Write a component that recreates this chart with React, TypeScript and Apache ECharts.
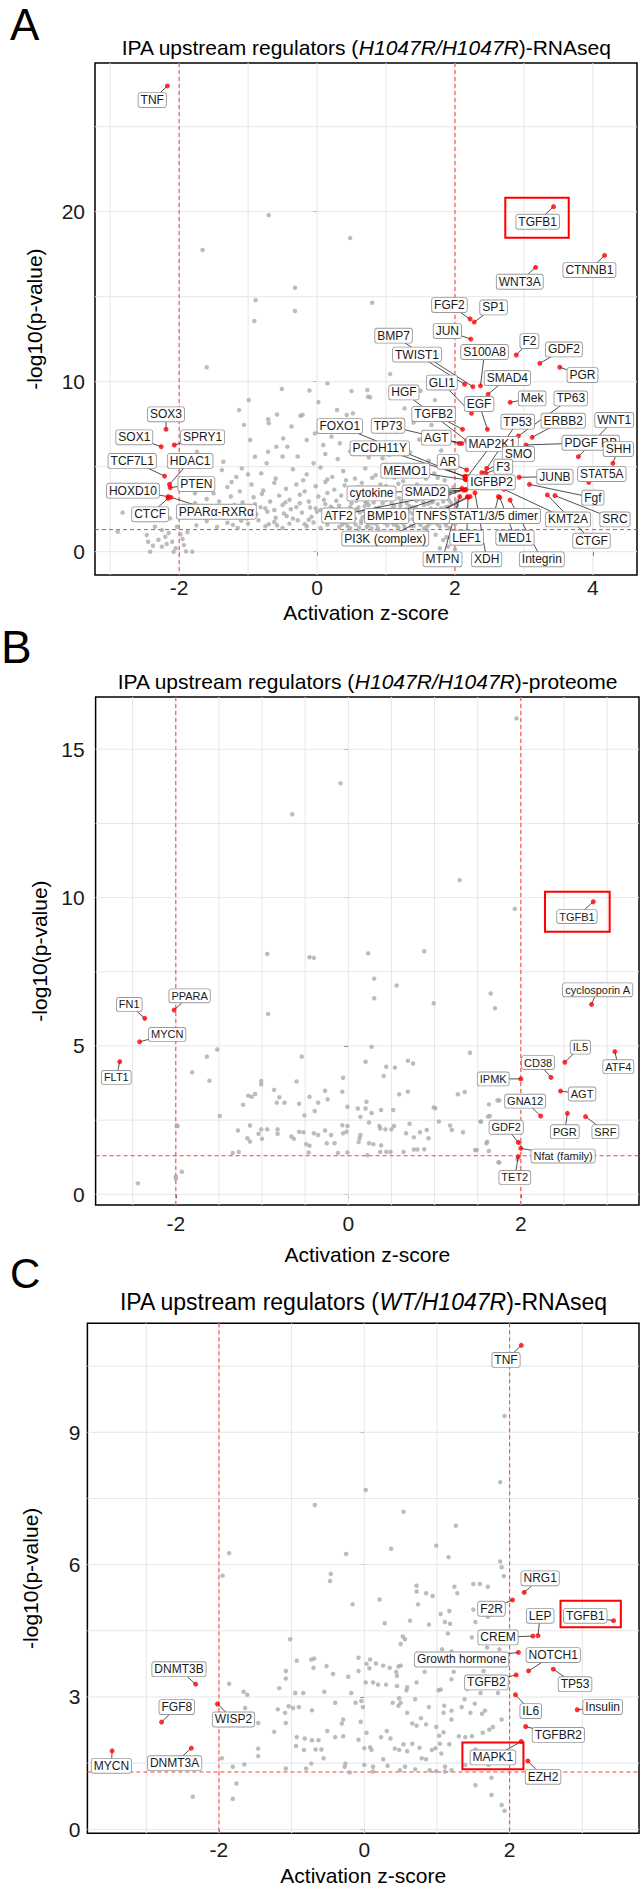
import React, { useEffect, useRef } from "react";
import * as echarts from "echarts";

// Labelled regulators: [name, point z, point -log10p, label z, label -log10p]
const A_LABELS = [
  ["TNF", -2.17, 27.4, -2.39, 26.57],
  ["TGFB1", 3.43, 20.3, 3.2, 19.41],
  ["CTNNB1", 4.17, 17.43, 3.95, 16.57],
  ["WNT3A", 3.17, 16.73, 2.94, 15.88],
  ["FGF2", 2.22, 13.69, 1.92, 14.51],
  ["SP1", 2.28, 13.51, 2.56, 14.37],
  ["JUN", 2.23, 12.51, 1.89, 12.98],
  ["F2", 2.89, 11.57, 3.08, 12.39],
  ["S100A8", 2.37, 9.76, 2.43, 11.75],
  ["GDF2", 3.23, 11.08, 3.58, 11.9],
  ["PGR", 3.52, 10.85, 3.85, 10.39],
  ["BMP7", 2.26, 9.71, 1.11, 12.71],
  ["TWIST1", 2.14, 9.85, 1.45, 11.6],
  ["SMAD4", 2.48, 9.26, 2.76, 10.22],
  ["GLI1", 2.24, 8.14, 1.81, 9.95],
  ["EGF", 2.47, 7.2, 2.35, 8.69],
  ["Mek", 2.8, 8.79, 3.12, 9.02],
  ["TP63", 2.92, 6.81, 3.68, 9.02],
  ["TP53", 2.46, 4.9, 2.91, 7.65],
  ["ERBB2", 3.12, 6.73, 3.57, 7.71],
  ["HGF", 2.17, 6.53, 1.26, 9.37],
  ["TGFB2", 2.11, 7.2, 1.69, 8.1],
  ["TP73", 2.1, 6.37, 1.03, 7.41],
  ["AGT", 2.06, 6.37, 1.73, 6.71],
  ["FOXO1", 2.14, 4.41, 0.33, 7.39],
  ["MAP2K1", 2.18, 4.41, 2.54, 6.34],
  ["PDGF BB", 3.03, 6.28, 3.97, 6.41],
  ["WNT1", 3.79, 5.59, 4.31, 7.75],
  ["SHH", 4.29, 5.2, 4.37, 6.04],
  ["STAT5A", 3.94, 4.08, 4.13, 4.57],
  ["SMO", 2.39, 4.65, 2.92, 5.75],
  ["AR", 2.17, 4.81, 1.9, 5.29],
  ["F3", 2.45, 4.61, 2.7, 5.0],
  ["JUNB", 2.93, 4.38, 3.45, 4.41],
  ["MEMO1", 2.15, 4.24, 1.28, 4.77],
  ["PCDH11Y", 2.15, 4.43, 0.91, 6.08],
  ["IGFBP2", 2.17, 4.24, 2.53, 4.08],
  ["Fgf", 3.08, 3.96, 4.0, 3.18],
  ["SMAD2", 2.15, 3.63, 1.57, 3.49],
  ["cytokine", 2.1, 3.73, 0.79, 3.43],
  ["KMT2A", 2.71, 3.67, 3.64, 1.9],
  ["SRC", 3.45, 3.3, 4.32, 1.9],
  ["CTGF", 3.34, 3.34, 3.98, 0.65],
  ["STAT1/3/5 dimer", 2.63, 3.24, 2.56, 2.1],
  ["TNFS", 2.18, 3.24, 1.66, 2.1],
  ["BMP10", 2.12, 3.63, 1.01, 2.1],
  ["ATF2", 2.16, 3.67, 0.31, 2.13],
  ["PI3K (complex)", 2.22, 3.24, 0.99, 0.77],
  ["LEF1", 2.19, 3.2, 2.17, 0.82],
  ["MTPN", 2.07, 3.24, 1.82, -0.45],
  ["XDH", 2.29, 3.47, 2.46, -0.45],
  ["MED1", 2.65, 3.2, 2.87, 0.82],
  ["Integrin", 2.8, 3.04, 3.26, -0.45],
  ["SOX3", -2.19, 7.2, -2.19, 8.08],
  ["SOX1", -2.26, 6.18, -2.65, 6.73],
  ["SPRY1", -2.07, 6.28, -1.66, 6.73],
  ["TCF7L1", -2.21, 4.45, -2.68, 5.34],
  ["HDAC1", -2.14, 3.96, -1.84, 5.34],
  ["PTEN", -2.13, 3.77, -1.75, 3.98],
  ["HOXD10", -2.16, 3.24, -2.67, 3.59],
  ["CTCF", -2.16, 3.14, -2.42, 2.2],
  ["PPARα-RXRα", -2.12, 3.2, -1.46, 2.35],
];

const A_GRAY = [
  [-0.70, 19.8], [-1.66, 17.75], [0.48, 18.45], [-0.32, 15.53], [-0.89, 14.8], [0.80, 14.65], [-0.32, 14.16], [-0.91, 13.57],
  [-1.60, 10.85], [0.15, 9.9], [-0.51, 9.57], [-0.11, 9.48], [-0.99, 8.92], [0.02, 8.8], [-1.13, 8.33], [-0.71, 7.79],
  [-0.58, 8.07], [-0.24, 8.0], [-1.06, 7.46], [-0.37, 7.37], [-0.70, 7.56], [1.50, 9.47], [0.73, 9.51], [1.71, 8.92],
  [1.27, 8.43], [0.52, 8.14], [0.50, 9.45], [0.74, 9.12], [0.29, 8.34], [0.43, 8.04], [-0.21, 8.06], [1.06, 10.45],
  [0.77, 9.09], [1.66, 7.45],
  [-1.74, 5.88], [-1.62, 5.29], [-1.38, 4.8], [-1.36, 5.29], [-1.24, 4.1], [-1.17, 4.4], [-1.09, 4.9], [-0.97, 6.57],
  [-0.9, 5.59], [-0.81, 4.61], [-0.71, 5.88], [-0.59, 6.18], [-0.49, 6.67], [-0.43, 6.18], [-0.73, 5.2],
  [-0.15, 6.57], [-0.03, 6.96], [0.09, 6.28], [0.21, 6.77], [0.33, 6.38],
  [-0.28, 5.6], [-0.05, 5.2], [0.12, 5.75], [0.3, 5.45], [0.48, 5.9], [0.62, 6.3], [0.75, 5.55], [0.9, 6.05], [1.05, 5.7],
  [1.2, 6.4], [1.35, 5.85], [1.48, 6.6], [1.62, 5.35], [1.8, 5.95], [0.55, 7.1], [0.88, 7.35], [1.15, 7.05], [1.4, 7.6], [0.25, 7.5],
  [-0.35, 4.85], [-0.15, 4.55], [0.05, 4.95], [0.22, 4.4], [0.38, 4.75], [0.55, 4.3], [0.7, 4.9], [0.85, 4.5], [1.0, 5.1],
  [1.12, 4.35], [1.28, 4.8], [1.42, 4.45], [1.55, 5.05], [1.7, 4.6], [1.85, 4.2], [1.95, 4.9], [-0.6, 4.3], [-1.0, 4.55], [-0.5, 5.6],
  [-1.5, 3.43], [-1.3, 3.8], [-1.12, 3.55], [-0.95, 3.95], [-0.78, 3.6], [-0.62, 4.05], [-0.45, 3.7], [-0.3, 3.95], [-0.18, 3.55],
  [-0.02, 3.85], [0.12, 4.1], [0.25, 3.65], [0.4, 3.9], [0.52, 3.6], [0.65, 4.05], [0.78, 3.75], [0.92, 3.95], [1.05, 3.6],
  [1.18, 4.0], [1.3, 3.7], [1.45, 3.95], [1.58, 3.6], [1.72, 3.85], [1.85, 3.55], [1.98, 3.8],
  [-1.77, 3.44], [-1.77, 2.85], [-1.6, 3.1], [-1.42, 2.95], [-1.25, 3.25], [-1.08, 2.9], [-0.92, 3.2], [-0.8, 3.4], [-0.68, 2.95],
  [-0.55, 3.3], [-0.4, 3.05], [-0.25, 3.35], [-0.12, 2.95], [0.02, 3.25], [0.15, 3.45], [0.28, 3.0], [0.35, 3.3], [0.48, 3.1],
  [0.58, 3.4], [0.7, 2.95], [0.82, 3.25], [0.88, 3.45], [1.0, 3.05], [1.1, 3.3], [1.22, 2.95], [1.35, 3.35], [1.48, 3.1],
  [1.6, 3.4], [1.68, 2.95], [1.8, 3.2], [1.92, 3.45], [2.02, 3.0],
  [-1.82, 2.25], [-1.96, 2.16], [-1.55, 2.6], [-1.38, 2.45], [-1.2, 2.75], [-1.05, 2.5], [-0.9, 2.8], [-0.75, 2.55], [-0.62, 2.45],
  [-0.5, 2.75], [-0.38, 2.5], [-0.25, 2.85], [-0.1, 2.6], [0.05, 2.45], [0.12, 2.8], [0.22, 2.55], [0.32, 2.7], [0.42, 2.45],
  [0.5, 2.85], [0.6, 2.6], [0.68, 2.4], [0.75, 2.75], [0.85, 2.55], [0.95, 2.85], [1.02, 2.45], [1.12, 2.7], [1.2, 2.5],
  [1.3, 2.85], [1.38, 2.6], [1.45, 2.4], [1.55, 2.75], [1.65, 2.55], [1.75, 2.8], [1.82, 2.45], [1.9, 2.65], [2.0, 2.5],
  [-1.7, 2.05], [-1.5, 2.3], [-1.35, 2.0], [-1.18, 2.25], [-1.02, 1.95], [-0.88, 2.2], [-0.72, 2.35], [-0.6, 2.0], [-0.48, 2.25],
  [-0.35, 1.95], [-0.22, 2.3], [-0.08, 2.05], [0.0, 2.35], [0.1, 1.95], [0.2, 2.2], [0.3, 2.35], [0.38, 2.0], [0.46, 2.25],
  [0.55, 1.95], [0.62, 2.3], [0.7, 2.1], [0.78, 1.9], [0.84, 2.25], [0.92, 2.05], [1.0, 2.35], [1.06, 1.95], [1.15, 2.2],
  [1.22, 2.38], [1.3, 2.0], [1.38, 2.25], [1.46, 1.92], [1.55, 2.15], [1.62, 2.35], [1.7, 2.0], [1.78, 2.25], [1.86, 1.95],
  [1.95, 2.2], [2.05, 2.05],
  [-1.75, 1.55], [-1.6, 1.8], [-1.45, 1.45], [-1.3, 1.7], [-1.15, 1.4], [-1.0, 1.65], [-0.85, 1.85], [-0.75, 1.5], [-0.62, 1.75],
  [-0.5, 1.4], [-0.4, 1.65], [-0.28, 1.85], [-0.15, 1.5], [-0.05, 1.72], [0.05, 1.4], [0.15, 1.6], [0.25, 1.85], [0.32, 1.45],
  [0.4, 1.7], [0.48, 1.38], [0.56, 1.6], [0.64, 1.82], [0.72, 1.45], [0.8, 1.68], [0.88, 1.4], [0.95, 1.85], [1.02, 1.55],
  [1.1, 1.75], [1.18, 1.42], [1.25, 1.65], [1.32, 1.88], [1.4, 1.5], [1.48, 1.72], [1.55, 1.38], [1.62, 1.6], [1.7, 1.85],
  [1.78, 1.48], [1.85, 1.7], [1.92, 1.4], [2.0, 1.62], [2.08, 1.85],
  [0.66, 2.02], [0.74, 1.55], [0.9, 2.6], [0.98, 1.7], [1.08, 2.85], [1.16, 1.52], [1.26, 2.15], [1.34, 2.68], [1.42, 1.78],
  [1.52, 2.42], [1.58, 1.95], [1.66, 2.9], [1.74, 1.62], [1.8, 2.55], [1.88, 2.1], [1.94, 2.88], [0.82, 2.9], [1.04, 2.3],
  [1.24, 1.8], [1.44, 3.0], [1.64, 2.2], [1.84, 1.75], [0.58, 2.5], [0.36, 1.58], [0.18, 2.42], [-0.18, 1.62], [-0.44, 2.1],
  [-0.7, 1.62], [-0.95, 2.42], [-1.22, 1.58], [-1.48, 2.15],
  [0.44, 1.52], [0.52, 2.12], [0.61, 1.42], [0.69, 2.68], [0.77, 2.18], [0.86, 1.62], [0.93, 2.32], [1.01, 1.78], [1.09, 2.55],
  [1.14, 1.98], [1.21, 2.72], [1.27, 1.45], [1.33, 2.38], [1.39, 1.92], [1.43, 2.62], [1.5, 1.58], [1.56, 2.28], [1.61, 2.82],
  [1.67, 1.72], [1.72, 2.48], [1.77, 1.9], [1.83, 2.95], [1.87, 1.55], [1.93, 2.35], [1.97, 1.78], [2.03, 2.7], [0.48, 2.62],
  [0.57, 3.0], [0.64, 1.68], [0.72, 2.88], [0.79, 1.38], [0.87, 2.42], [0.96, 3.1], [1.03, 2.0], [1.11, 1.6], [1.19, 3.15],
  [1.29, 2.5], [1.36, 1.52], [1.41, 3.2], [1.49, 2.02], [1.54, 2.92], [1.59, 1.45], [1.69, 3.08], [1.76, 2.1], [1.86, 2.6],
  [1.91, 3.05], [0.3, 1.95], [0.2, 2.65], [0.1, 3.05], [-0.02, 2.55], [-0.12, 1.88], [-0.3, 2.62], [-0.46, 2.9], [-0.58, 1.55],
  [-0.82, 2.62], [-1.1, 1.82], [-1.32, 2.55], [-1.62, 2.0], [0.42, 4.2], [0.6, 3.8], [0.8, 4.35], [1.0, 3.85], [1.25, 4.15],
  [1.5, 3.78], [1.75, 4.35], [0.15, 4.25], [-0.2, 4.2], [0.95, 5.5], [1.58, 4.3], [1.9, 3.3],
  [-2.82, 2.3], [-2.89, 1.18], [-2.47, 0.98], [-2.45, 0.59], [-2.35, 1.47], [-2.25, 1.27], [-2.42, 0.0], [-2.25, 0.29],
  [-2.2, 0.88], [-2.1, 0.59], [-2.03, 1.47], [-1.98, 1.02], [-1.93, 0.39], [-1.81, 0.0], [-1.9, 0.02], [-2.08, 0.0],
  [-2.13, 1.96], [-2.3, 0.7], [-2.18, 0.45], [-2.05, 0.2], [-1.95, 0.75], [-1.88, 1.15], [-2.15, 1.1], [-2.38, 0.35],
  [1.72, 1.0], [1.83, 0.69], [1.9, 0.3], [1.98, 0.95], [2.05, 0.5], [2.1, 1.1], [1.78, 0.2], [2.0, 0.15], [1.88, 0.85],
  [2.15, 0.72], [1.2, 1.15], [1.45, 1.05], [1.6, 1.2], [1.3, 0.95], [0.9, 1.2], [0.6, 1.15],
];

const B_LABELS = [
  ["TGFB1", 2.84, 9.86, 2.65, 9.36],
  ["cyclosporin A", 2.82, 6.4, 2.89, 6.89],
  ["IL5", 2.51, 4.45, 2.69, 4.96],
  ["ATF4", 3.09, 4.81, 3.13, 4.3],
  ["CD38", 2.35, 3.94, 2.2, 4.44],
  ["IPMK", 2.0, 3.89, 1.68, 3.89],
  ["AGT", 2.46, 3.48, 2.71, 3.38],
  ["GNA12", 2.23, 2.64, 2.05, 3.14],
  ["PGR", 2.54, 2.73, 2.51, 2.11],
  ["SRF", 2.75, 2.62, 2.98, 2.11],
  ["GDF2", 1.97, 1.75, 1.83, 2.26],
  ["Nfat (family)", 2.0, 1.55, 2.49, 1.29],
  ["TET2", 1.97, 1.27, 1.93, 0.57],
  ["FN1", -2.36, 5.93, -2.54, 6.4],
  ["PPARA", -2.02, 6.21, -1.84, 6.69],
  ["MYCN", -2.42, 5.14, -2.1, 5.39],
  ["FLT1", -2.65, 4.47, -2.69, 3.94],
];

const B_GRAY = [
  [1.29, 10.59], [1.93, 9.62], [-0.94, 8.1], [-0.45, 7.99], [-0.40, 7.97], [0.23, 8.12], [0.88, 8.19], [0.30, 7.27],
  [0.56, 7.04], [0.30, 6.61], [0.99, 6.44], [1.65, 6.77], [1.70, 6.27], [-0.93, 6.08], [0.27, 4.97], [1.41, 4.77],
  [-1.64, 4.64], [-1.52, 4.88], [-0.54, 4.64], [0.20, 4.47], [0.69, 4.50], [0.75, 4.41], [0.44, 4.3], [0.54, 4.27],
  [-1.81, 4.11], [-1.61, 3.83], [0.41, 3.99], [-0.06, 3.93], [-0.60, 3.80], [-1.01, 3.82], [-1.01, 3.71], [-0.86, 3.52],
  [-0.80, 3.27], [-1.16, 3.32], [-1.12, 3.29], [-1.08, 3.38], [-0.27, 3.49], [-0.07, 3.46], [-0.24, 3.2], [0.69, 3.46],
  [0.59, 3.37], [1.27, 3.37], [1.35, 3.45], [-0.83, 3.09], [-0.74, 3.09], [-1.22, 3.02], [-0.45, 3.29], [-0.57, 3.05],
  [-0.35, 3.09], [-0.01, 2.95], [0.21, 3.12], [1.63, 3.03], [1.75, 3.16], [0.99, 2.93], [1.01, 2.9], [-0.51, 2.66],
  [-0.39, 2.81], [0.11, 2.89], [0.20, 2.89], [0.27, 2.74], [0.38, 2.84], [0.52, 2.84], [-1.49, 2.64], [0.14, 2.61],
  [1.62, 2.62], [1.05, 2.45], [0.24, 2.42], [0.71, 2.38], [1.18, 2.32], [1.53, 2.45], [-1.99, 2.32], [-1.14, 2.32],
  [-1.28, 2.15], [-1.04, 2.04], [-1.01, 2.19], [-0.94, 2.19], [-0.82, 2.19], [-0.82, 2.04], [-1.17, 1.89], [-1.14, 1.78],
  [-1.00, 1.87], [-0.66, 1.95], [-0.63, 1.87], [-0.57, 2.11], [-0.52, 2.09], [-0.40, 2.06], [-0.35, 2.0], [-0.27, 2.15],
  [-0.20, 2.0], [-0.07, 2.33], [-0.01, 2.3], [-0.02, 2.11], [-0.06, 2.06], [0.14, 2.0], [0.13, 1.89], [0.12, 1.76],
  [0.24, 1.72], [0.29, 1.69], [0.36, 2.3], [0.37, 2.22], [0.43, 2.19], [0.50, 2.19], [0.53, 2.3], [0.67, 2.06],
  [0.76, 1.92], [0.83, 2.09], [0.91, 2.17], [0.93, 1.89], [1.2, 2.17], [1.33, 2.09], [-0.49, 1.69], [-0.45, 1.64],
  [-0.25, 1.72], [-0.16, 1.72], [0.38, 1.65], [-1.34, 1.39], [-1.27, 1.43], [-0.46, 1.41], [-0.12, 1.39], [-0.01, 1.41],
  [0.22, 1.32], [0.37, 1.43], [0.44, 1.43], [0.49, 1.43], [0.64, 1.43], [0.76, 1.51], [0.80, 1.51], [0.88, 1.52],
  [1.47, 1.49], [1.60, 1.72], [1.63, 1.46], [1.74, 1.08], [-2.0, 0.6], [-2.0, 0.52], [-1.93, 0.76], [-2.44, 0.37],
  [-1.98, 2.3], [1.95, 16.04], [-0.09, 13.85], [-0.65, 12.81], [1.64, 2.64], [1.54, 2.45], [1.73, 3.17], [1.61, 1.77],
  [1.49, 1.49], [1.99, 1.74], [1.96, 1.18], [1.75, 1.07],
];

const C_LABELS = [
  ["TNF", 2.16, 10.97, 1.95, 10.64],
  ["NRG1", 2.2, 5.37, 2.42, 5.69],
  ["F2R", 2.04, 5.2, 1.75, 5.0],
  ["LEP", 2.39, 4.39, 2.42, 4.84],
  ["CREM", 2.32, 4.38, 1.84, 4.35],
  ["TGFB1", 3.43, 4.73, 3.04, 4.84],
  ["Growth hormone", 2.12, 4.01, 1.34, 3.85],
  ["NOTCH1", 2.26, 3.59, 2.6, 3.95],
  ["TP53", 2.6, 3.63, 2.9, 3.29],
  ["TGFB2", 2.09, 3.5, 1.68, 3.33],
  ["IL6", 2.08, 3.05, 2.29, 2.68],
  ["Insulin", 2.93, 2.71, 3.28, 2.77],
  ["TGFBR2", 2.22, 2.33, 2.67, 2.14],
  ["MAPK1", 2.16, 1.99, 1.77, 1.63],
  ["EZH2", 2.25, 1.55, 2.46, 1.19],
  ["DNMT3B", -2.32, 3.29, -2.55, 3.63],
  ["FGF8", -2.79, 2.43, -2.58, 2.77],
  ["WISP2", -2.02, 2.84, -1.8, 2.49],
  ["DNMT3A", -2.38, 1.84, -2.61, 1.5],
  ["MYCN", -3.47, 1.78, -3.48, 1.44],
];

const C_GRAY = [
  [1.93, 9.37], [1.87, 7.87], [0.02, 7.69], [-0.68, 7.35], [0.54, 7.2], [1.26, 6.88], [0.99, 6.43], [0.37, 6.36],
  [1.16, 6.17], [-1.86, 6.26], [-0.25, 6.24], [1.87, 6.07], [1.89, 5.94], [1.92, 5.74], [-1.95, 5.75], [-0.46, 5.79],
  [-0.47, 5.63], [0.72, 5.52], [0.72, 5.39], [0.85, 5.35], [0.94, 5.29], [1.5, 5.56], [1.59, 5.56], [1.7, 5.5],
  [1.24, 5.5], [1.28, 5.35], [0.21, 5.21], [-0.16, 5.1], [0.74, 5.1], [1.17, 4.95], [1.5, 4.98], [1.05, 4.88],
  [0.28, 4.67], [0.63, 4.73], [0.89, 4.64], [1.11, 4.7], [1.18, 4.66], [1.53, 4.7], [1.7, 4.82], [-1.02, 4.31],
  [0.5, 4.2], [0.53, 4.37], [0.56, 4.31], [1.15, 4.44], [1.48, 4.35], [1.69, 4.12], [1.86, 4.08], [1.07, 4.08],
  [1.2, 4.03], [-0.93, 3.82], [-0.73, 3.85], [-0.69, 3.87], [-0.7, 3.66], [-0.52, 3.7], [-0.43, 3.52], [-0.22, 3.46],
  [-0.08, 3.59], [-0.08, 3.89], [0.03, 3.75], [0.08, 3.85], [0.07, 3.65], [0.16, 3.76], [0.26, 3.71], [0.35, 3.66],
  [0.47, 3.69], [0.44, 3.57], [0.5, 3.71], [0.45, 3.48], [0.83, 3.57], [1.2, 3.4], [1.23, 3.57], [1.64, 3.59],
  [1.75, 3.76], [1.87, 3.41], [1.86, 3.22], [1.42, 3.18], [1.6, 3.09], [1.84, 3.09], [-1.08, 3.59], [-1.08, 3.42],
  [-1.86, 3.3], [-1.66, 3.12], [-1.61, 3.05], [-1.17, 3.2], [-0.95, 3.09], [-0.84, 3.09], [-0.55, 3.12], [-0.18, 3.09],
  [0.02, 3.33], [0.12, 3.33], [0.19, 3.28], [0.3, 3.28], [0.45, 3.25], [0.59, 3.22], [0.72, 3.33], [0.58, 3.15],
  [1.02, 3.15], [1.05, 3.17], [-1.64, 2.75], [-1.19, 2.72], [-1.09, 2.64], [-1.04, 2.79], [-0.98, 2.75], [-0.9, 2.77],
  [-0.72, 2.7], [-1.08, 2.41], [-1.46, 2.41], [-0.4, 2.87], [-0.29, 2.49], [-0.31, 2.4], [-0.12, 2.87], [-0.04, 2.91],
  [-0.02, 2.77], [0.39, 2.87], [0.47, 2.8], [0.5, 2.87], [0.48, 2.97], [0.59, 2.64], [0.7, 2.95], [0.89, 2.77],
  [0.78, 2.52], [1.1, 2.8], [1.09, 2.64], [1.2, 2.49], [1.2, 2.69], [1.34, 2.77], [1.38, 2.95], [1.46, 2.64],
  [1.52, 2.85], [1.62, 2.62], [1.66, 2.69], [1.89, 2.49], [-1.24, 2.21], [-0.93, 2.09], [-0.82, 2.06], [-0.72, 2.02],
  [-0.63, 2.02], [-0.94, 1.89], [-0.83, 1.8], [-0.67, 1.81], [-0.59, 1.81], [-0.51, 2.23], [-0.4, 2.09], [-0.29, 2.11],
  [-0.08, 2.03], [-0.05, 2.44], [0.03, 2.19], [0.08, 1.86], [0.1, 1.8], [0.0, 1.84], [0.31, 2.23], [0.23, 2.09],
  [0.36, 2.06], [0.42, 1.83], [0.48, 1.8], [0.54, 1.93], [0.59, 1.77], [0.66, 1.94], [0.76, 1.85], [0.66, 2.4],
  [0.72, 2.35], [0.85, 2.38], [0.99, 2.32], [1.03, 2.12], [1.09, 2.2], [0.93, 1.8], [0.98, 1.84], [1.04, 1.94],
  [1.17, 1.93], [1.06, 1.72], [1.3, 2.11], [1.39, 2.09], [1.48, 2.11], [1.63, 2.19], [1.72, 2.26], [1.77, 2.32],
  [1.53, 1.81], [1.64, 1.72], [-1.96, 1.61], [-1.81, 1.42], [-1.65, 1.47], [-1.46, 1.83], [-1.46, 1.66], [-1.08, 1.38],
  [-0.8, 1.38], [-0.73, 1.49], [-0.56, 1.61], [-0.26, 1.49], [-0.27, 1.42], [-0.2, 1.29], [0.0, 1.46], [0.12, 1.42],
  [0.12, 1.31], [0.26, 1.59], [0.32, 1.44], [0.49, 1.34], [0.56, 1.42], [0.7, 1.36], [0.79, 1.61], [0.85, 1.59],
  [0.9, 1.34], [0.99, 1.32], [1.11, 1.42], [1.11, 1.31], [1.2, 1.34], [1.39, 1.46], [1.63, 1.51], [1.71, 1.46],
  [-1.76, 1.04], [-1.81, 0.69], [-2.36, 0.74], [1.53, 1.0], [1.75, 1.17], [1.75, 0.78], [1.89, 0.55], [1.93, 0.42],
];

// Tick labels and grid breaks
const A_X_TICKS = [-2, 0, 2, 4];
const A_Y_TICKS = [0, 10, 20];
const A_X_GRID = [-3, -2, -1, 0, 1, 2, 3, 4];
const A_Y_GRID = [0, 5, 10, 15, 20, 25];
const B_X_TICKS = [-2, 0, 2];
const B_Y_TICKS = [0, 5, 10, 15];
const B_X_GRID = [-2.5, -2, -1.5, -1, -0.5, 0, 0.5, 1, 1.5, 2, 2.5, 3];
const B_Y_GRID = [0, 2.5, 5, 7.5, 10, 12.5, 15];
const C_X_TICKS = [-2, 0, 2];
const C_Y_TICKS = [0, 3, 6, 9];
const C_X_GRID = [-3, -2, -1, 0, 1, 2, 3];
const C_Y_GRID = [0, 1.5, 3, 4.5, 6, 7.5, 9, 10.5];

// Thresholds: |z| = 2, p = 0.05
const THRESH_Z = [-2, 2];
const THRESH_P = 1.3;

// Highlight boxes [z1, p1, z2, p2]
const A_BOXES = [[2.73, 18.47, 3.65, 20.82]];
const B_BOXES = [[2.28, 8.85, 3.03, 10.2]];
const C_BOXES = [[2.7, 4.58, 3.53, 5.18], [1.35, 1.36, 2.19, 1.97]];

const FONT = "Liberation Sans, Arial, Helvetica, sans-serif";

const PANELS = [
  {
    letter: "A", letterSize: 44, letterY: 2,
    title: "{n|IPA upstream regulators (}{i|H1047R/H1047R}{n|)-RNAseq}", titleY: 47, titleSize: 21,
    gray: A_GRAY, labels: A_LABELS, boxes: A_BOXES,
    xt: A_X_TICKS, yt: A_Y_TICKS, xg: A_X_GRID, yg: A_Y_GRID,
    xmin: -3.22, xmax: 4.64, ymin: -1.37, ymax: 28.75,
    grid: { left: 95, top: 63, width: 542, height: 512 },
    xm: 2, ym: 10, xTitleY: 612, yTitleX: 34, labelFont: 12,
  },
  {
    letter: "B", letterSize: 46, letterY: 624,
    title: "{n|IPA upstream regulators (}{i|H1047R/H1047R}{n|)-proteome}", titleY: 681, titleSize: 21,
    gray: B_GRAY, labels: B_LABELS, boxes: B_BOXES,
    xt: B_X_TICKS, yt: B_Y_TICKS, xg: B_X_GRID, yg: B_Y_GRID,
    xmin: -2.93, xmax: 3.37, ymin: -0.36, ymax: 16.76,
    grid: { left: 95.6, top: 697, width: 543.4, height: 508 },
    xm: 8, ym: 11, xTitleY: 1254, yTitleX: 39, labelFont: 11,
  },
  {
    letter: "C", letterSize: 42, letterY: 1252,
    title: "{n|IPA upstream regulators (}{i|WT/H1047R}{n|)-RNAseq}", titleY: 1302, titleSize: 23,
    gray: C_GRAY, labels: C_LABELS, boxes: C_BOXES,
    xt: C_X_TICKS, yt: C_Y_TICKS, xg: C_X_GRID, yg: C_Y_GRID,
    xmin: -3.81, xmax: 3.78, ymin: -0.09, ymax: 11.47,
    grid: { left: 87.4, top: 1323.3, width: 551.6, height: 510 },
    xm: 6, ym: 7, xTitleY: 1875, yTitleX: 30, labelFont: 12,
  },
];

function refLines(gi: number, items: number[][], style: any, z: number) {
  return {
    type: "custom", xAxisIndex: gi, yAxisIndex: gi, z, silent: true, clip: false,
    data: items.map((it) => [it[0], it[1]]),
    renderItem: (params: any, api: any) => {
      const it = items[params.dataIndex];
      const cs = params.coordSys;
      if (it[0] === 0) {
        const x = api.coord([it[1], 0])[0];
        return { type: "line", shape: { x1: x, y1: cs.y, x2: x, y2: cs.y + cs.height }, style };
      }
      const y = api.coord([0, it[1]])[1];
      return { type: "line", shape: { x1: cs.x, y1: y, x2: cs.x + cs.width, y2: y }, style };
    },
  };
}

export default function App() {
  const ref = useRef<HTMLDivElement>(null);
  useEffect(() => {
    if (!ref.current) return;
    const chart = echarts.init(ref.current, undefined, { renderer: "svg" });
    const grids: any[] = [];
    const xAxes: any[] = [];
    const yAxes: any[] = [];
    const series: any[] = [];
    const graphics: any[] = [];

    PANELS.forEach((p, gi) => {
      grids.push({
        ...p.grid, show: true, borderColor: "#000", borderWidth: 1.5,
        backgroundColor: "transparent", containLabel: false, outerBoundsMode: "none",
      });
      xAxes.push({
        type: "value", gridIndex: gi, min: p.xmin, max: p.xmax,
        axisLine: { show: false },
        axisTick: { show: true, length: 4, customValues: p.xt, lineStyle: { color: "#333", width: 1 } },
        axisLabel: { customValues: p.xt, fontSize: 21, color: "#1a1a1a", margin: p.xm, fontFamily: FONT },
        splitLine: { show: false },
      });
      yAxes.push({
        type: "value", gridIndex: gi, min: p.ymin, max: p.ymax,
        axisLine: { show: false },
        axisTick: { show: true, length: 4, customValues: p.yt, lineStyle: { color: "#333", width: 1 } },
        axisLabel: { customValues: p.yt, fontSize: 21, color: "#1a1a1a", margin: p.ym, fontFamily: FONT },
        splitLine: { show: false },
      });

      const gridItems = [...p.xg.map((v) => [0, v]), ...p.yg.map((v) => [1, v])];
      series.push(refLines(gi, gridItems, { stroke: "#e6e6e6", lineWidth: 1 }, 1));
      const thr = [...THRESH_Z.map((v) => [0, v]), [1, THRESH_P]];
      series.push(refLines(gi, thr, { stroke: "#ff3b3b", lineWidth: 1, lineDash: [4, 3] }, 2));

      series.push({
        type: "scatter", xAxisIndex: gi, yAxisIndex: gi, z: 3, silent: true,
        symbolSize: 4.5, itemStyle: { color: "#ababab" },
        data: p.gray,
      });

      const labs = p.labels as any[];
      series.push({
        type: "custom", xAxisIndex: gi, yAxisIndex: gi, z: 4, silent: true, clip: false,
        data: labs.map((l) => [l[1], l[2]]),
        renderItem: (params: any, api: any) => {
          const l = labs[params.dataIndex];
          const a = api.coord([l[1], l[2]]);
          const b = api.coord([l[3], l[4]]);
          return { type: "line", shape: { x1: a[0], y1: a[1], x2: b[0], y2: b[1] }, style: { stroke: "#222", lineWidth: 0.8 } };
        },
      });

      series.push({
        type: "scatter", xAxisIndex: gi, yAxisIndex: gi, z: 5, silent: true,
        symbolSize: 5, itemStyle: { color: "#ff0000" },
        data: labs.map((l) => [l[1], l[2]]),
      });

      series.push({
        type: "custom", xAxisIndex: gi, yAxisIndex: gi, z: 6, silent: true, clip: false,
        data: labs.map((l) => [l[3], l[4]]),
        renderItem: (params: any, api: any) => {
          const l = labs[params.dataIndex];
          const b = api.coord([l[3], l[4]]);
          return {
            type: "text", x: b[0], y: b[1],
            style: {
              text: l[0], fill: "#1a1a1a", fontSize: p.labelFont, fontFamily: FONT,
              lineHeight: p.labelFont, align: "center", verticalAlign: "middle",
              backgroundColor: "#ffffff", borderColor: "#9a9a9a", borderWidth: 0.9, borderRadius: 2,
              padding: [1, 2, 1, 2],
            },
          };
        },
      });

      const boxes = p.boxes;
      series.push({
        type: "custom", xAxisIndex: gi, yAxisIndex: gi, z: 7, silent: true, clip: false,
        data: boxes.map((bx) => [bx[0], bx[1]]),
        renderItem: (params: any, api: any) => {
          const bx = boxes[params.dataIndex];
          const a = api.coord([bx[0], bx[3]]);
          const c = api.coord([bx[2], bx[1]]);
          return {
            type: "rect", shape: { x: a[0], y: a[1], width: c[0] - a[0], height: c[1] - a[1] },
            style: { fill: "none", stroke: "#ff0000", lineWidth: 2 },
          };
        },
      });

      const cx = p.grid.left + p.grid.width / 2;
      const cy = p.grid.top + p.grid.height / 2;
      graphics.push({
        type: "text", x: p.letter === "B" ? 1 : 10, y: p.letterY,
        style: { text: p.letter, fontSize: p.letterSize, lineHeight: p.letterSize, fontFamily: FONT, fill: "#000", align: "left", verticalAlign: "top" },
      });
      graphics.push({
        type: "text", x: cx, y: p.titleY,
        style: {
          text: p.title, align: "center", verticalAlign: "middle",
          rich: {
            n: { fontSize: p.titleSize, fontFamily: FONT, fill: "#000" },
            i: { fontSize: p.titleSize, fontFamily: FONT, fill: "#000", fontStyle: "italic" },
          },
        },
      });
      graphics.push({
        type: "text", x: cx, y: p.xTitleY,
        style: { text: "Activation z-score", fontSize: 21, fontFamily: FONT, fill: "#000", align: "center", verticalAlign: "middle" },
      });
      graphics.push({
        type: "text", x: p.yTitleX, y: cy, rotation: Math.PI / 2,
        style: { text: "-log10(p-value)", fontSize: 21, fontFamily: FONT, fill: "#000", align: "center", verticalAlign: "middle" },
      });
    });

    chart.setOption({
      animation: false,
      backgroundColor: "#ffffff",
      textStyle: { fontFamily: FONT },
      grid: grids,
      xAxis: xAxes,
      yAxis: yAxes,
      series,
      graphic: graphics,
    });
    return () => chart.dispose();
  }, []);
  return <div ref={ref} style={{ position: "absolute", left: 0, top: 0, width: 642, height: 1886 }} />;
}
